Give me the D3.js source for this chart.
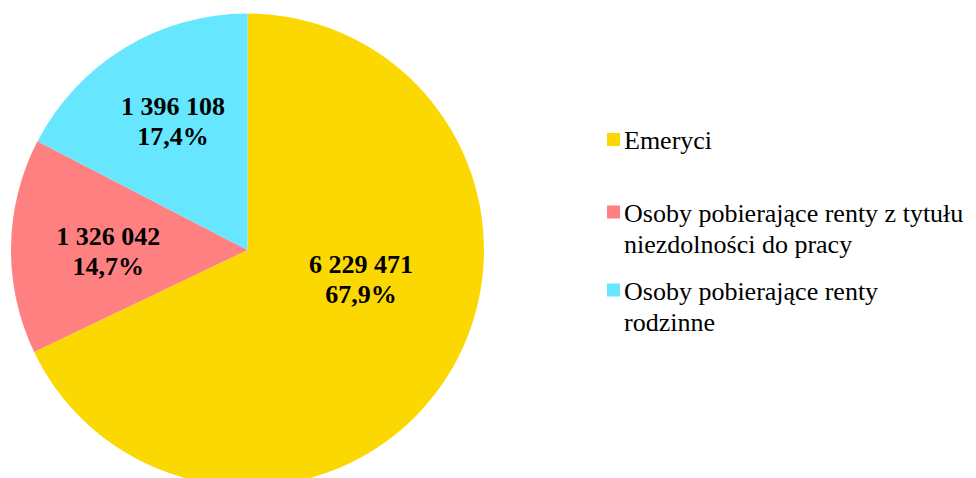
<!DOCTYPE html>
<html>
<head>
<meta charset="utf-8">
<script src="https://cdn.jsdelivr.net/npm/d3@7.9.0/dist/d3.min.js"></script>
<style>
  body { margin: 0; background: #fff; }
  text { font-family: "Liberation Serif", "Times New Roman", serif; }
</style>
</head>
<body>
<svg id="chart"></svg>
<script>
const categories = ["Emeryci", "Osoby pobierające renty z tytułu niezdolności do pracy", "Osoby pobierające renty rodzinne"];
const legendLines = [["Emeryci"], ["Osoby pobierające renty z tytułu", "niezdolności do pracy"], ["Osoby pobierające renty", "rodzinne"]];
const counts = ["6 229 471", "1 326 042", "1 396 108"];
const shares = [67.9, 14.7, 17.4];
const colors = ["#fcd803", "#ff8080", "#66e7ff"];

const width = 976, height = 478;
const cx = 247.5, cy = 250, radius = 236.5;

const svg = d3.select("#chart").attr("width", width).attr("height", height);
const g = svg.append("g").attr("transform", `translate(${cx},${cy})`);

const pie = d3.pie().sort(null).value(d => d.share);
const data = categories.map((c, i) => ({ name: c, count: counts[i], share: shares[i], color: colors[i] }));
const arcs = pie(data);
const arc = d3.arc().innerRadius(0).outerRadius(radius);
const labelArc = d3.arc().innerRadius(radius * 0.5).outerRadius(radius * 0.5);

g.selectAll("path.slice")
  .data(arcs)
  .enter()
  .append("path")
  .attr("class", "slice")
  .attr("d", arc)
  .attr("fill", d => d.data.color);

// nudge labels from centroid so they sit like the original
const nudge = [[13.5, -34], [-21, 3], [-13, -28]];
arcs.forEach((d, i) => {
  const [x0, y0] = labelArc.centroid(d);
  const x = x0 + nudge[i][0], y = y0 + nudge[i][1];
  const t = g.append("text")
    .attr("text-anchor", "middle")
    .attr("font-weight", "bold")
    .attr("font-size", 26)
    .attr("fill", "#000");
  t.append("tspan").attr("x", x).attr("y", y - 6).text(d.data.count);
  t.append("tspan").attr("x", x).attr("y", y + 24).text(d.data.share.toFixed(1).replace(".", ",") + "%");
});

//legend
const legendY = [149, 221.5, 299.5];
legendLines.forEach((lines, i) => {
  svg.append("rect")
    .attr("x", 607).attr("y", legendY[i] - 16)
    .attr("width", 13).attr("height", 13)
    .attr("fill", colors[i]);
  const t = svg.append("text").attr("font-size", 26).attr("fill", "#000");
  lines.forEach((l, j) => {
    t.append("tspan").attr("x", 624).attr("y", legendY[i] + j * 31).text(l);
  });
});
</script>
</body>
</html>
